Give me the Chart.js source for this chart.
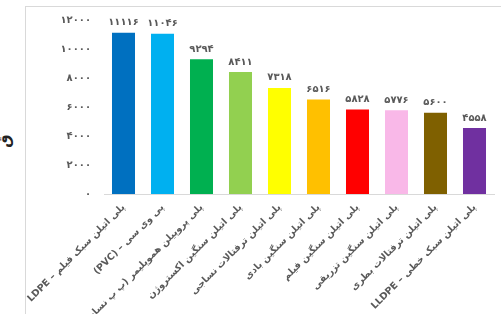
<!DOCTYPE html>
<html>
<head>
<meta charset="utf-8">
<script src="https://cdn.jsdelivr.net/npm/chart.js@4"></script>
<style>
  body { margin: 0; background: #fff; overflow: hidden; }
  #frame { position: absolute; left: 25px; top: 6px; width: 520px; height: 340px;
           border-left: 1px solid #d9d9d9; border-top: 1px solid #d9d9d9; }
  #chart { position: absolute; left: 0; top: 0; direction: rtl; }
  #ytitle { position: absolute; left: -2px; top: 132px; font: bold 15px "DejaVu Sans"; color: #222;
            transform: rotate(-90deg); }
</style>
</head>
<body>
<div id="ytitle">ق</div>
<div id="frame"><canvas id="chart" width="476" height="308"></canvas></div>
<script>
// DATA
const categories = [
  "پلی اتیلن سبک فیلم – LDPE",
  "پی وی سی – (PVC)",
  "پلی پروپیلن هموپلیمر (پ پ نساجی)",
  "پلی اتیلن سنگین اکستروژن",
  "پلی اتیلن ترفتالات نساجی",
  "پلی اتیلن سنگین بادی",
  "پلی اتیلن سنگین فیلم",
  "پلی اتیلن سنگین تزریقی",
  "پلی اتیلن ترفتالات بطری",
  "پلی اتیلن سبک خطی – LLDPE"
];
const values = [11116, 11046, 9294, 8411, 7318, 6516, 5828, 5776, 5600, 4558];
const barColors = ["#0070C0", "#00B0F0", "#00B050", "#92D050", "#FFFF00",
                   "#FFC000", "#FF0000", "#F9B8E8", "#7F6000", "#7030A0"];
const yTicks = [0, 2000, 4000, 6000, 8000, 10000, 12000];

const faDigits = "۰۱۲۳۴۵۶۷۸۹";
const toFa = n => String(n).replace(/\d/g, d => faDigits[d]);
const textGray = "#595959";

// value labels above bars
const barLabels = {
  id: "barLabels",
  afterDatasetsDraw(chart) {
    const ctx = chart.ctx;
    ctx.save();
    ctx.font = "bold 10px 'DejaVu Sans'";
    ctx.fillStyle = textGray;
    ctx.textAlign = "center";
    ctx.textBaseline = "bottom";
    chart.getDatasetMeta(0).data.forEach((bar, i) => {
      ctx.fillText(toFa(values[i]), bar.x, bar.y - 5);
    });
    ctx.restore();
  }
};

new Chart(document.getElementById("chart"), {
  type: "bar",
  data: {
    labels: categories,
    datasets: [{
      data: values,
      backgroundColor: barColors,
      barPercentage: 0.59,
      categoryPercentage: 1
    }]
  },
  options: {
    responsive: false,
    animation: false,
    layout: { padding: { top: 13, right: 8, bottom: 0, left: 0 } },
    plugins: { legend: { display: false }, tooltip: { enabled: false } },
    scales: {
      x: {
        grid: { display: false },
        border: { color: "#d9d9d9" },
        ticks: {
          autoSkip: false, minRotation: 45, maxRotation: 45, padding: 0,
          color: textGray, font: { family: "DejaVu Sans", size: 9.5, weight: "bold" }
        },
        afterFit(s) { s.height = 121; s.paddingLeft = 0; s.paddingRight = 0; }
      },
      y: {
        min: 0, max: 12000,
        grid: { display: false, drawTicks: false },
        border: { display: false },
        afterBuildTicks(s) { s.ticks = yTicks.map(v => ({ value: v })); },
        ticks: {
          padding: 13, color: textGray,
          font: { family: "DejaVu Sans", size: 10, weight: "bold" },
          callback: v => toFa(v)
        },
        afterFit(s) { s.width = 78; s.paddingTop = 0; s.paddingBottom = 0; }
      }
    }
  },
  plugins: [barLabels]
});
</script>
</body>
</html>
